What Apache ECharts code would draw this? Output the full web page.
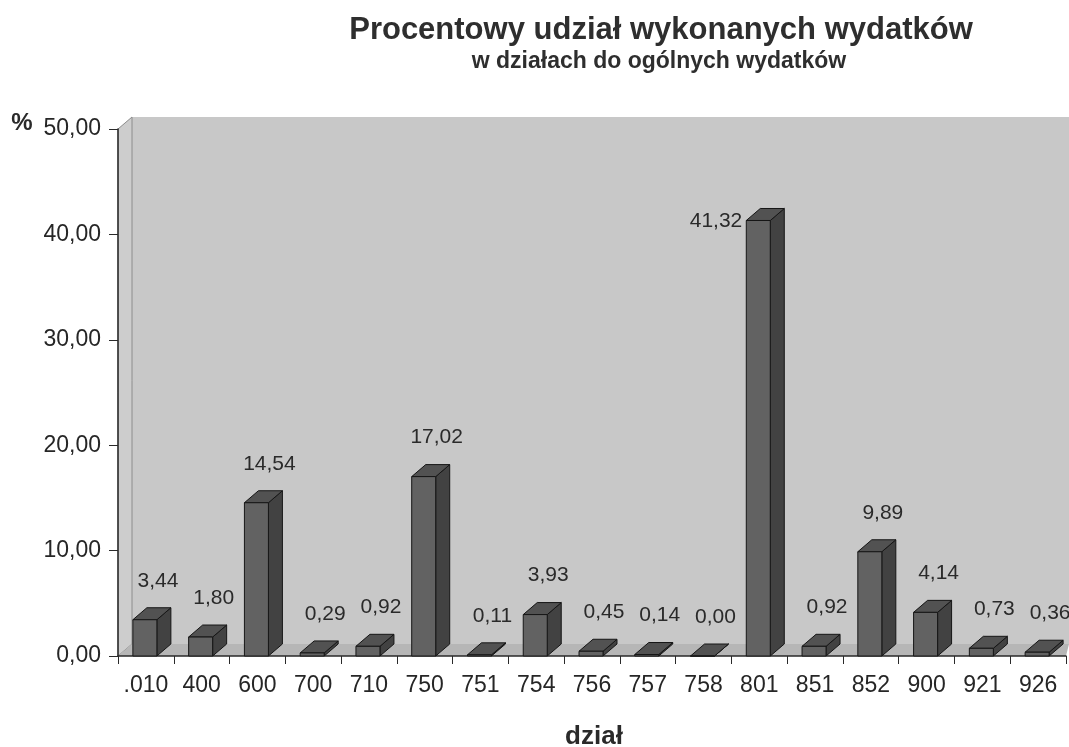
<!DOCTYPE html>
<html>
<head>
<meta charset="utf-8">
<script src="https://cdn.jsdelivr.net/npm/echarts@6/dist/echarts.min.js"></script>
<style>
  html, body { margin: 0; padding: 0; background: #ffffff; }
  #chart { width: 1069px; height: 747px; }
</style>
</head>
<body>
<div id="chart"></div>
<script>
// ── dane ──
const categories = ['.010', '400', '600', '700', '710', '750', '751', '754', '756',
  '757', '758', '801', '851', '852', '900', '921', '926'];
const shares = [3.44, 1.80, 14.54, 0.29, 0.92, 17.02, 0.11, 3.93, 0.45,
  0.14, 0.00, 41.32, 0.92, 9.89, 4.14, 0.73, 0.36];
const yMin = 0;
const yMax = 50;
const yStep = 10;

// ── wygląd ──
const FONT = '"Liberation Sans", Arial, sans-serif';
const DEPTH_X = 14;
const DEPTH_Y = 12;
const FRONT_W = 24;

const GRID = { left: 118, right: 3, top: 129, bottom: 91 };
const W = 1069, H = 747;
const x0 = GRID.left, x1 = W - GRID.right;
const yTop = GRID.top, yBot = H - GRID.bottom;

function fmt(v) {
  return v.toFixed(2).replace('.', ',');
}

const maxShare = Math.max(...shares);

// słupek 3D: przód, bok, góra + etykieta
function renderBar(params, api) {
  const i = api.value(0);
  const v = api.value(1);
  const base = api.coord([i, 0]);
  const top = api.coord([i, v]);
  const cx = base[0];
  const left = cx - 13;
  const right = left + FRONT_W;
  const border = { stroke: '#161616', lineWidth: 1 };

  const children = [
    {
      type: 'polygon',
      shape: { points: [[right, top[1]], [right + DEPTH_X, top[1] - DEPTH_Y],
        [right + DEPTH_X, base[1] - DEPTH_Y], [right, base[1]]] },
      style: Object.assign({ fill: '#424242' }, border)
    },
    {
      type: 'polygon',
      shape: { points: [[left, top[1]], [left + DEPTH_X, top[1] - DEPTH_Y],
        [right + DEPTH_X, top[1] - DEPTH_Y], [right, top[1]]] },
      style: Object.assign({ fill: '#525252' }, border)
    },
    {
      type: 'rect',
      shape: { x: left, y: top[1], width: FRONT_W, height: base[1] - top[1] },
      style: Object.assign({ fill: '#626262' }, border)
    }
  ];

  const isMax = v === maxShare;
  children.push({
    type: 'text',
    style: {
      text: fmt(v),
      x: isMax ? left - 4 : cx + 12,
      y: isMax ? top[1] + 1 : top[1] - DEPTH_Y - 27,
      align: isMax ? 'right' : 'center',
      verticalAlign: 'middle',
      font: '21px ' + FONT,
      fill: '#2a2a2a'
    }
  });

  return { type: 'group', children };
}

const chart = echarts.init(document.getElementById('chart'));

chart.setOption({
  backgroundColor: '#ffffff',
  animation: false,
  grid: {
    left: GRID.left,
    right: GRID.right,
    top: GRID.top,
    bottom: GRID.bottom
  },
  graphic: [
    // ściana tylna
    {
      type: 'polygon',
      z: -10,
      shape: { points: [[x0 + DEPTH_X, yTop - DEPTH_Y], [W, yTop - DEPTH_Y],
        [W, yBot - DEPTH_Y], [x0 + DEPTH_X, yBot - DEPTH_Y]] },
      style: { fill: '#c8c8c8' }
    },
    // ściana boczna
    {
      type: 'polygon',
      z: -10,
      shape: { points: [[x0, yBot], [x0, yTop], [x0 + DEPTH_X, yTop - DEPTH_Y],
        [x0 + DEPTH_X, yBot - DEPTH_Y]] },
      style: { fill: '#cdcdcd', stroke: '#8c8c8c', lineWidth: 1 }
    },
    // podłoga
    {
      type: 'polygon',
      z: -10,
      shape: { points: [[x0, yBot], [x0 + DEPTH_X, yBot - DEPTH_Y],
        [W, yBot - DEPTH_Y], [x1, yBot]] },
      style: { fill: '#b6b6b6' }
    },
    {
      type: 'text',
      style: {
        text: 'Procentowy udział wykonanych wydatków',
        x: 661, y: 30, align: 'center', verticalAlign: 'middle',
        font: 'bold 31px ' + FONT, fill: '#2e2e2e'
      }
    },
    {
      type: 'text',
      style: {
        text: 'w działach do ogólnych wydatków',
        x: 659, y: 62, align: 'center', verticalAlign: 'middle',
        font: 'bold 23px ' + FONT, fill: '#2e2e2e'
      }
    },
    {
      type: 'text',
      style: {
        text: '%',
        x: 22, y: 123, align: 'center', verticalAlign: 'middle',
        font: 'bold 24px ' + FONT, fill: '#2a2a2a'
      }
    },
    {
      type: 'text',
      style: {
        text: 'dział',
        x: 594, y: 737, align: 'center', verticalAlign: 'middle',
        font: 'bold 26px ' + FONT, fill: '#2a2a2a'
      }
    }
  ],
  xAxis: {
    type: 'category',
    data: categories,
    boundaryGap: true,
    axisLine: { show: true, lineStyle: { color: '#2a2a2a', width: 1.5 } },
    axisTick: { show: true, length: 8, lineStyle: { color: '#2a2a2a' } },
    axisLabel: {
      interval: 0,
      hideOverlap: false,
      color: '#262626',
      fontFamily: FONT,
      fontSize: 23,
      margin: 18
    }
  },
  yAxis: {
    type: 'value',
    min: yMin,
    max: yMax,
    interval: yStep,
    axisLine: { show: true, lineStyle: { color: '#2a2a2a', width: 1.5 } },
    axisTick: { show: true, length: 9, lineStyle: { color: '#2a2a2a' } },
    splitLine: { show: false },
    axisLabel: {
      color: '#262626',
      fontFamily: FONT,
      fontSize: 23,
      margin: 17,
      formatter: fmt
    }
  },
  series: [
    {
      type: 'custom',
      renderItem: renderBar,
      data: shares.map((v, i) => [i, v]),
      encode: { x: 0, y: 1 },
      z: 5
    }
  ]
});
</script>
</body>
</html>
